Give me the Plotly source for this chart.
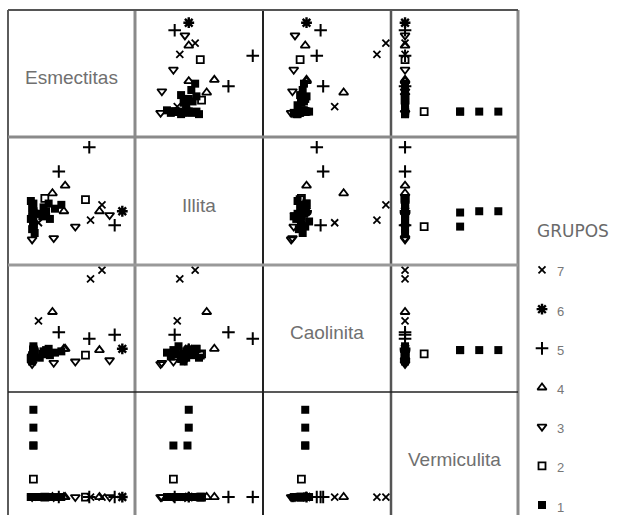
import plotly.graph_objects as go

# ---------------- data ----------------
variables = ["Esmectitas", "Illita", "Caolinita", "Vermiculita"]

grupo = [7, 7, 7,
         6,
         5, 5, 5,
         4, 4, 4, 4,
         3, 3, 3, 3,
         2, 2, 2,
         1, 1, 1, 1,
         1, 1, 1, 1, 1, 1, 1, 1, 1, 1,
         1, 1, 1, 1, 1, 1, 1, 1]
esmectitas = [74, 65, 24,
              90,
              64, 84, 40,
              35, 45, 72, 44,
              80, 53, 36, 19,
              20, 61, 29,
              20, 20, 20, 20,
              19, 20, 18, 21, 19, 20, 18, 21, 20, 19,
              27, 30, 33, 28, 25, 37, 32, 42]
illita = [47, 35, 33,
          42,
          92, 31, 73,
          56, 62, 42, 42,
          39, 30, 21, 20,
          30, 51, 52,
          42, 42, 30, 41,
          28, 32, 36, 40, 44, 48, 50, 25, 34, 38,
          38, 42, 36, 45, 40, 44, 48, 47]
caolinita = [96, 89, 56,
             34,
             42, 45, 47,
             63, 34, 33, 34,
             25, 24, 23, 22,
             30, 29, 30,
             33, 33, 33, 33,
             28, 30, 26, 32, 29, 34, 27, 31, 36, 24,
             30, 33, 29, 32, 27, 31, 34, 32]
vermiculita = [0, 0, 0,
               0,
               0, 0, 0,
               0, 0, 0, 0,
               0, 0, 0, 0,
               17, 0, 0,
               83, 66, 49, 49,
               0, 0, 0, 0, 0, 0, 0, 0, 0, 0,
               0, 0, 0, 0, 0, 0, 0, 0]
grupos_leyenda = [7, 6, 5, 4, 3, 2, 1]

columns = {"Esmectitas": esmectitas, "Illita": illita,
           "Caolinita": caolinita, "Vermiculita": vermiculita}

# ---------------- layout geometry ----------------
W, H = 619, 515
col_px = [8, 135, 263, 391, 518]
row_px = [10, 137, 265, 392, 519]
x_range = {"Esmectitas": [0, 100], "Illita": [0, 100],
           "Caolinita": [0, 100], "Vermiculita": [-12.5, 100.5]}
y_range = {"Esmectitas": [0, 100], "Illita": [0, 100],
           "Caolinita": [0, 100], "Vermiculita": [-20.9, 99.9]}

symbols = {1: "square", 2: "square-open", 3: "triangle-down-open",
           4: "triangle-up-open", 5: "cross-thin-open", 6: "asterisk-open",
           7: "x-thin-open"}
sizes = {1: 8, 2: 7, 3: 8, 4: 8, 5: 9, 6: 9, 7: 7}
lw = {1: 0, 2: 1.8, 3: 1.8, 4: 1.8, 5: 2, 6: 2.4, 7: 1.8}

fig = go.Figure()
layout = {}
n = len(variables)
for i, vy in enumerate(variables):
    for j, vx in enumerate(variables):
        k = i * n + j + 1
        xa = "xaxis" if k == 1 else f"xaxis{k}"
        ya = "yaxis" if k == 1 else f"yaxis{k}"
        xd = [col_px[j] / W, col_px[j + 1] / W]
        top, bot = row_px[i], row_px[i + 1]
        lo, hi = y_range[vy]
        bot_c = min(bot, H)
        lo_c = lo + (bot - bot_c) / (bot - top) * (hi - lo)
        yd = [1 - bot_c / H, 1 - top / H]
        common = dict(showgrid=False, zeroline=False, showticklabels=False,
                      ticks="", showline=False, fixedrange=True)
        layout[xa] = dict(domain=xd, range=x_range[vx],
                          anchor="y" if k == 1 else f"y{k}", **common)
        layout[ya] = dict(domain=yd, range=[lo_c, hi],
                          anchor="x" if k == 1 else f"x{k}", **common)
        if i == j:
            continue
        for g in sorted(set(grupo)):
            idx = [t for t, gg in enumerate(grupo) if gg == g]
            fig.add_trace(go.Scatter(
                x=[columns[vx][t] for t in idx],
                y=[columns[vy][t] for t in idx],
                mode="markers",
                xaxis="x" if k == 1 else f"x{k}",
                yaxis="y" if k == 1 else f"y{k}",
                showlegend=False, hoverinfo="skip",
                marker=dict(symbol=symbols[g], size=sizes[g], color="black",
                            line=dict(color="black", width=lw[g])),
            ))

# legend axis
kL = n * n + 1
layout[f"xaxis{kL}"] = dict(domain=[525 / W, 1], range=[-17, 77], visible=False,
                            anchor=f"y{kL}", fixedrange=True)
layout[f"yaxis{kL}"] = dict(domain=[0, 1 - 222 / H], range=[0.745, 8.225],
                            visible=False, anchor=f"x{kL}", fixedrange=True)
for g in grupos_leyenda:
    fig.add_trace(go.Scatter(
        x=[0], y=[g], mode="markers", xaxis=f"x{kL}", yaxis=f"y{kL}",
        showlegend=False, hoverinfo="skip",
        marker=dict(symbol=symbols[g], size=sizes[g], color="black",
                    line=dict(color="black", width=lw[g])),
    ))

annotations = []
for i, v in enumerate(variables):
    cx = (col_px[i] + col_px[i + 1]) / 2
    cy = (row_px[i] + row_px[i + 1]) / 2 + 4
    annotations.append(dict(x=cx / W, y=1 - cy / H, xref="paper", yref="paper",
                            xanchor="center", yanchor="middle",
                            text=v, showarrow=False,
                            font=dict(family="Liberation Sans, Arial", size=19,
                                      color="#707070")))
annotations.append(dict(x=573 / W, y=1 - 231 / H, xref="paper", yref="paper",
                        xanchor="center", yanchor="middle",
                        text="GRUPOS", showarrow=False,
                        font=dict(family="DejaVu Sans", size=17, color="#6a6a6a")))
for g in grupos_leyenda:
    annotations.append(dict(x=0, y=g, xref=f"x{kL}", yref=f"y{kL}",
                            text=str(g), showarrow=False, xanchor="left",
                            yanchor="middle", xshift=13, yshift=-2,
                            font=dict(family="Liberation Sans, Arial", size=13,
                                      color="#777777")))

# grid lines
shapes = []
v_styles = [("#333333", 1.6), ("#8a8a8a", 3), ("#222222", 2), ("#555555", 2.5),
            ("#8a8a8a", 3)]
for xpx, (c, w) in zip(col_px, v_styles):
    shapes.append(dict(type="line", xref="paper", yref="paper",
                       x0=xpx / W, x1=xpx / W, y0=0, y1=1 - row_px[0] / H,
                       line=dict(color=c, width=w)))
h_styles = [("#555555", 2), ("#8a8a8a", 3), ("#999999", 3), ("#222222", 1.5)]
for ypx, (c, w) in zip(row_px[:4], h_styles):
    shapes.append(dict(type="line", xref="paper", yref="paper",
                       x0=col_px[0] / W, x1=col_px[-1] / W,
                       y0=1 - ypx / H, y1=1 - ypx / H,
                       line=dict(color=c, width=w)))

fig.update_layout(width=W, height=H, margin=dict(l=0, r=0, t=0, b=0),
                  paper_bgcolor="white", plot_bgcolor="white",
                  showlegend=False, annotations=annotations, shapes=shapes,
                  **layout)
fig.write_html("out.html")
